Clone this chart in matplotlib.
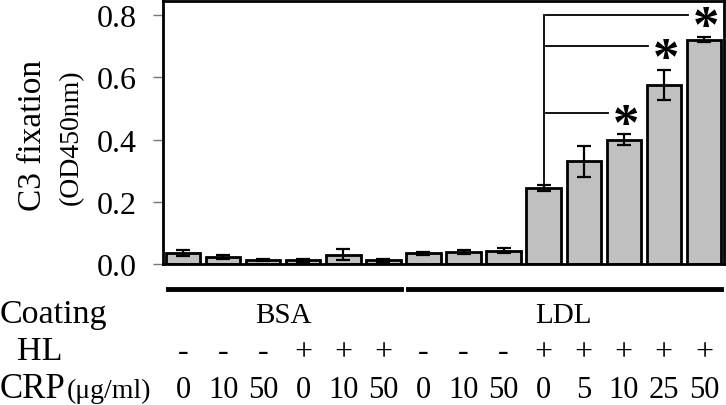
import matplotlib.pyplot as plt
import matplotlib.transforms as mtransforms
import numpy as np

plt.rcParams['font.family'] = ['Liberation Serif', 'DejaVu Serif']

# values
coating = ['BSA'] * 6 + ['LDL'] * 8
hl = ['-', '-', '-', '+', '+', '+', '-', '-', '-', '+', '+', '+', '+', '+']
crp = ['0', '10', '50', '0', '10', '50', '0', '10', '50', '0', '5', '10', '25', '50']
c3 = [0.035, 0.022, 0.013, 0.012, 0.030, 0.012,
      0.035, 0.038, 0.042, 0.245, 0.330, 0.400, 0.575, 0.720]
err = [0.010, 0.006, 0.004, 0.004, 0.017, 0.004,
       0.005, 0.006, 0.008, 0.010, 0.050, 0.018, 0.048, 0.008]
# significance brackets: (target bar, line height)
sig = [(11, 0.486), (12, 0.70), (13, 0.80)]
ref_bar = 9

fig = plt.figure(figsize=(7.26, 4.06), dpi=100)
ax = fig.add_axes([163/726, 1-265/406, 561/726, 263/406])

x = np.arange(len(c3))
ax.bar(x, c3, width=0.86, color='#c0c0c0', edgecolor='black', linewidth=2, zorder=2)
ax.errorbar(x, c3, yerr=err, fmt='none', ecolor='black', elinewidth=1.6,
            capsize=5, capthick=1.6, zorder=3)

ax.set_xlim(-0.5, 13.5)
ax.set_ylim(0, 0.845)
ax.set_yticks([0, 0.2, 0.4, 0.6, 0.8])
ax.set_yticklabels(['0.0', '0.2', '0.4', '0.6', '0.8'])
ax.set_xticks([])
ax.tick_params(axis='y', labelsize=23, length=7, width=1, color='#777777', pad=12)
for s in ax.spines.values():
    s.set_linewidth(2)

# brackets + stars
top_ref = c3[ref_bar] + err[ref_bar] + 0.005
ax.plot([ref_bar, ref_bar], [top_ref, max(h for _, h in sig)], color='black', lw=1.3)
for b, h in sig:
    ax.plot([ref_bar + 0.05, b - 0.4], [h, h], color='black', lw=1.3)
    ax.annotate('*', xy=(b + 0.05, h), xytext=(0, -19), textcoords='offset points',
                ha='center', va='baseline', fontsize=38, fontweight='bold',
                annotation_clip=False)

# y label
fig.text(33/726, 1-135/406, 'C3 fixation', rotation=90, ha='center', va='center', fontsize=24)
fig.text(71/726, 1-137/406, '(OD450nm)', rotation=90, ha='center', va='center', fontsize=20)

# table below the axes
trans = mtransforms.blended_transform_factory(ax.transData, fig.transFigure)
ly = 1 - 290/406
ax.plot([-0.38, 5.43], [ly, ly], color='black', lw=3.5, transform=trans, clip_on=False)
ax.plot([5.62, 13.43], [ly, ly], color='black', lw=3.5, transform=trans, clip_on=False)

y_coat = 1 - 323/406
y_hl = 1 - 360/406
y_crp = 1 - 398/406
ax.text(np.mean(x[np.array(coating) == 'BSA']), y_coat, 'BSA', transform=trans,
        ha='center', va='baseline', fontsize=21)
ax.text(np.mean(x[np.array(coating) == 'LDL']), y_coat, 'LDL', transform=trans,
        ha='center', va='baseline', fontsize=21)
for i in range(len(x)):
    ax.text(x[i], y_hl, hl[i], transform=trans, ha='center', va='baseline', fontsize=23)
    ax.text(x[i], y_crp, crp[i], transform=trans, ha='center', va='baseline', fontsize=22)

fig.text(0.0, y_coat, 'Coating', ha='left', va='baseline', fontsize=24.5)
fig.text(17/726, y_hl, 'HL', ha='left', va='baseline', fontsize=24.5)
fig.text(0.0, y_crp, 'CRP', ha='left', va='baseline', fontsize=25)
fig.text(67/726, y_crp, '(μg/ml)', ha='left', va='baseline', fontsize=20)

fig.savefig('out.png', dpi=100)
